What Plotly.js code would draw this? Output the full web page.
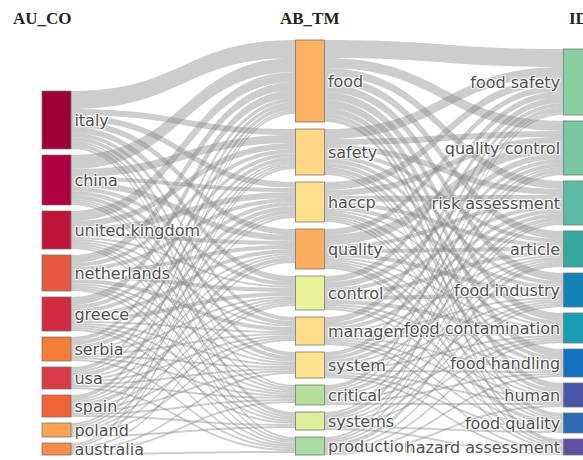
<!DOCTYPE html>
<html><head><meta charset="utf-8">
<script src="https://cdn.plot.ly/plotly-3.0.1.min.js"></script>
<style>html,body{margin:0;padding:0;overflow:hidden;background:#fff}</style>
</head><body><div id="chart" style="width:583px;height:460px"></div>
<script>
// ---- data ----
const fieldTitles = ['AU_CO', 'AB_TM', 'ID'];
const countries = ['italy','china','united.kingdom','netherlands','greece','serbia','usa','spain','poland','australia'];
const abTerms = ['food','safety','haccp','quality','control','management','system','critical','systems','production'];
const idTerms = ['food safety','quality control','risk assessment','article','food industry','food contamination','food handling','human','food quality','hazard assessment'];
// flows country -> abstract term (rows: countries, cols: abTerms)
const countryToAb = [
  [9,3,3,3,3,2,2,1,2,1],
  [7,4,2,3,2,2,2,1,1,1],
  [5,3,3,2,1,1,1,1,1,1],
  [4,2,2,2,2,2,1,1,1,1],
  [4,2,2,2,2,1,1,1,1,1],
  [2,2,2,1,1,1,1,1,0,1],
  [2,1,2,1,1,1,1,1,0,1],
  [2,1,1,2,1,1,1,1,1,0],
  [1,1,1,1,1,1,0,0,1,0],
  [1,1,0,0,1,0,1,1,0,1]
];
// flows abstract term -> keyword plus (rows: abTerms, cols: idTerms)
const abToId = [
  [9,5,4,4,4,4,4,3,2,2],
  [5,3,3,2,2,2,2,2,1,1],
  [4,3,3,2,2,1,2,1,1,1],
  [3,5,2,2,2,1,1,1,2,1],
  [3,3,2,2,2,2,1,1,1,0],
  [3,2,2,1,1,1,1,1,1,1],
  [2,2,2,1,1,1,1,1,1,1],
  [2,1,2,1,1,1,1,1,0,0],
  [1,2,1,1,1,1,0,0,1,1],
  [1,1,1,2,1,1,1,1,0,0]
];

// ---- styles ----
const countryColors = ['#9B0037','#AE003E','#BE1439','#E65842','#D22A43','#F57D38','#D73C47','#EE6438','#FAA656','#F58C48'];
const abColors = ['#FDB062','#FED784','#FEE08B','#FCAE60','#E8F29A','#FEDE88','#FEE48C','#B6DF9C','#DDEF99','#A8DCA2'];
const idColors = ['#8ACFA1','#76C6A4','#5CB9A2','#36A79F','#1282B4','#1A9DB0','#1470C0','#4B55A7','#2F6CB7','#5E4FA2'];

const W = 583, Ht = 460;
const M = {l: 42, r: 5, t: 40, b: 5};
const plotW = W - M.l - M.r, plotH = Ht - M.t - M.b;
const thick = 29, pad = 7;
const colGaps = [6, 7, 6];

const labels = countries.concat(abTerms, idTerms);
const colors = countryColors.concat(abColors, idColors);
const nL = countries.length, nM = abTerms.length;
const src = [], tgt = [], val = [];
countryToAb.forEach((row, i) => row.forEach((v, j) => { if (v > 0) { src.push(i); tgt.push(nL + j); val.push(v); } }));
abToId.forEach((row, i) => row.forEach((v, j) => { if (v > 0) { src.push(nL + i); tgt.push(nL + nM + j); val.push(v); } }));

// node values = max(in, out)
const inV = new Array(labels.length).fill(0), outV = new Array(labels.length).fill(0);
for (let k = 0; k < val.length; k++) { outV[src[k]] += val[k]; inV[tgt[k]] += val[k]; }
const nodeVal = labels.map((_, i) => Math.max(inV[i], outV[i]));
const cols = [[...Array(nL).keys()], [...Array(nM).keys()].map(i => i + nL), [...Array(idTerms.length).keys()].map(i => i + nL + nM)];
const ky = Math.min(...cols.map(c => (plotH - (c.length - 1) * pad) / c.reduce((s, i) => s + nodeVal[i], 0)));
const nx = new Array(labels.length), ny = new Array(labels.length);
const colX = [thick / 2 / plotW, 0.5, 1.0];
cols.forEach((c, ci) => {
  const total = c.reduce((s, i) => s + nodeVal[i] * ky, 0) + (c.length - 1) * colGaps[ci];
  let y = plotH - total;
  c.forEach(i => {
    const h = nodeVal[i] * ky;
    nx[i] = colX[ci];
    ny[i] = (y + h / 2) / plotH;
    y += h + colGaps[ci];
  });
});

const trace = {
  type: 'sankey',
  arrangement: 'fixed',
  domain: {x: [0, 1], y: [0, 1]},
  node: {label: labels, color: colors, x: nx, y: ny, pad: pad, thickness: thick,
         line: {color: '#777', width: 0.8}},
  link: {source: src, target: tgt, value: val, color: 'rgba(130,130,130,0.4)'},
  textfont: {family: 'DejaVu Sans', size: 16, color: '#505050'}
};

const titleY = 1 + (M.t - 19) / plotH;
const layout = {
  width: W, height: Ht, margin: M,
  paper_bgcolor: '#fff', plot_bgcolor: '#fff',
  font: {family: 'DejaVu Sans', size: 16, color: '#505050'},
  annotations: fieldTitles.map((t, i) => ({
    text: '<b>' + t + '</b>', x: [0, 0.5, 1][i], y: titleY, xref: 'paper', yref: 'paper',
    xanchor: 'center', yanchor: 'middle', showarrow: false,
    font: {family: 'Liberation Serif', size: 17, color: '#222'}
  }))
};
Plotly.newPlot('chart', [trace], layout, {displayModeBar: false, staticPlot: true});
</script>
</body></html>
